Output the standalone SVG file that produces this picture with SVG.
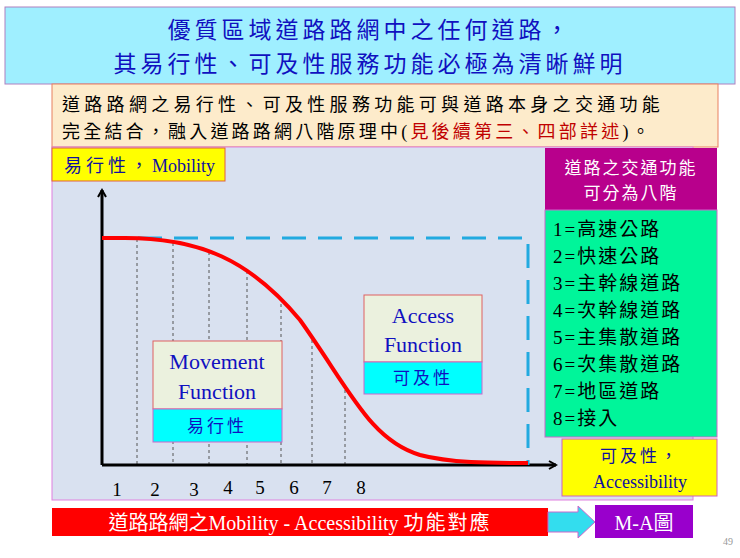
<svg xmlns="http://www.w3.org/2000/svg" width="740" height="558" viewBox="0 0 740 558">
<style>
text{font-family:"Liberation Serif","Noto Sans CJK TC",serif}
.grid{stroke:#555;stroke-width:1;stroke-dasharray:3,3}
.blue{fill:#1010C0}
.cy{fill:#00FFFF;stroke:#CC66CC}
.box{fill:#EBF1DE;stroke:#E06060}
</style>
<defs>
<marker id="ah" markerWidth="10" markerHeight="10" refX="8" refY="5" orient="auto" markerUnits="userSpaceOnUse"><path d="M1,1 L8,5 L1,9" fill="none" stroke="#000" stroke-width="2"/></marker>
</defs>
<rect width="740" height="558" fill="#fff"/>
<g id="title"><rect x="5" y="7" width="730" height="77" fill="#9FEFFF" stroke="#B080C0"/>
<text x="370" y="38" font-size="23" text-anchor="middle" class="blue" letter-spacing="4">優質區域道路路網中之任何道路，</text>
<text x="370" y="72" font-size="23" text-anchor="middle" class="blue" letter-spacing="4">其易行性、可及性服務功能必極為清晰鮮明</text></g>
<g id="sub"><rect x="52" y="84" width="666" height="63" fill="#FDEBCB" stroke="#E88060"/>
<text x="62" y="111" font-size="18" letter-spacing="4.3">道路路網之易行性、可及性服務功能可與道路本身之交通功能</text>
<text x="62" y="138" font-size="18" letter-spacing="3.2">完全結合，融入道路路網八階原理中(<tspan fill="#C00000">見後續第三、四部詳述</tspan>)。</text></g>
<g id="panel"><rect x="52" y="147" width="641" height="353" fill="#D9E1F0" stroke="#E080E0"/></g>
<g id="ylabel"><rect x="52" y="148" width="173" height="33" fill="#FFFF00" stroke="#E06040"/>
<text x="64" y="172" font-size="18" fill="#1010A0"><tspan letter-spacing="4">易行性，</tspan>Mobility</text></g>
<g id="connectors">
<g class="grid"><line x1="137" y1="239" x2="137" y2="465"/><line x1="173" y1="243" x2="173" y2="465"/><line x1="209" y1="252" x2="209" y2="465"/><line x1="247" y1="271" x2="247" y2="465"/><line x1="281" y1="298" x2="281" y2="465"/><line x1="312" y1="340" x2="312" y2="465"/><line x1="345" y1="390" x2="345" y2="465"/></g>
<line x1="102" y1="465" x2="102" y2="190" stroke="#000" stroke-width="3" marker-end="url(#ah)"/>
<line x1="102" y1="465" x2="556" y2="465" stroke="#000" stroke-width="3" marker-end="url(#ah)"/>
<path d="M102,238 H528 V465" fill="none" stroke="#22AAE0" stroke-width="3" stroke-dasharray="24,12"/>
<path d="M102,238 L125,238 C200,238 250,260 300,320 C350,390 370,440 420,455 C450,463 490,463 528,463" fill="none" stroke="#FF0000" stroke-width="4"/>
</g>
<g id="movement"><rect x="153" y="341" width="129" height="68" class="box"/><rect x="153" y="409" width="129" height="33" class="cy"/>
<text x="217" y="369" font-size="22" text-anchor="middle" class="blue">Movement</text>
<text x="217" y="399" font-size="22" text-anchor="middle" class="blue">Function</text>
<text x="217" y="432" font-size="17" text-anchor="middle" class="blue" letter-spacing="3">易行性</text></g>
<g id="access"><rect x="364" y="295" width="118" height="67" class="box"/><rect x="364" y="362" width="118" height="32" class="cy"/>
<text x="423" y="323" font-size="22" text-anchor="middle" class="blue">Access</text>
<text x="423" y="352" font-size="22" text-anchor="middle" class="blue">Function</text>
<text x="423" y="384" font-size="17" text-anchor="middle" class="blue" letter-spacing="3">可及性</text></g>
<g id="classes"><rect x="545" y="148" width="172" height="62" fill="#B8008C"/>
<text x="631" y="174" font-size="17" text-anchor="middle" fill="#fff" letter-spacing="2">道路之交通功能</text>
<text x="631" y="199" font-size="17" text-anchor="middle" fill="#fff" letter-spacing="2">可分為八階</text>
<rect x="545" y="210" width="172" height="227" fill="#00F59A" stroke="#CC66CC"/>
<g font-size="19" letter-spacing="2"><text x="553" y="236">1=高速公路</text><text x="553" y="263">2=快速公路</text><text x="553" y="290">3=主幹線道路</text><text x="553" y="317">4=次幹線道路</text><text x="553" y="344">5=主集散道路</text><text x="553" y="371">6=次集散道路</text><text x="553" y="398">7=地區道路</text><text x="553" y="425">8=接入</text></g></g>
<g id="xlabel"><rect x="562" y="439" width="155" height="57" fill="#FFFF00" stroke="#D060C0"/>
<text x="640" y="462" font-size="17" text-anchor="middle" fill="#1010A0" letter-spacing="3">可及性，</text>
<text x="640" y="488" font-size="18" text-anchor="middle" fill="#1010A0">Accessibility</text></g>
<g id="nums" font-size="19" text-anchor="middle"><text x="117" y="496">1</text><text x="155" y="496">2</text><text x="194" y="496">3</text><text x="228" y="494">4</text><text x="260" y="494">5</text><text x="294" y="494">6</text><text x="327" y="494">7</text><text x="361" y="494">8</text></g>
<g id="footer"><rect x="52" y="508" width="496" height="28" fill="#FF0000"/>
<text x="300" y="530" font-size="20" text-anchor="middle" fill="#fff">道路路網之Mobility - Accessibility <tspan letter-spacing="2">功能對應</tspan></text>
<path d="M548,512 H578 V506 L595,522 L578,538 V532 H548 Z" fill="#33DDEE" stroke="#CC66CC"/>
<rect x="595" y="505" width="98" height="33" fill="#9900CC"/>
<text x="644" y="530" font-size="20" text-anchor="middle" fill="#fff">M-A圖</text></g>
<text x="728" y="545" font-size="10" fill="#999" text-anchor="middle" font-family="Liberation Sans,sans-serif">49</text>
</svg>
